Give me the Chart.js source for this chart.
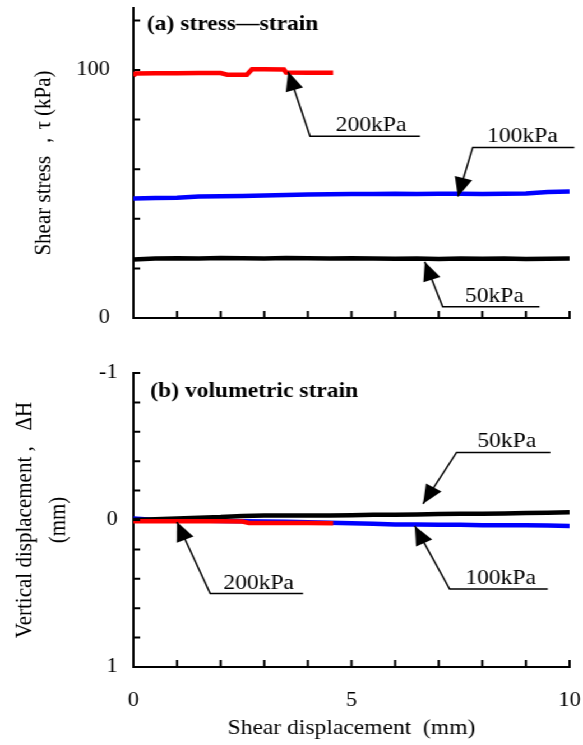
<!DOCTYPE html>
<html>
<head>
<meta charset="utf-8">
<script src="https://cdn.jsdelivr.net/npm/chart.js@4"></script>
<style>
  body { margin: 0; background: #fff; }
  #wrap { width: 520px; height: 745px; transform: scaleX(1.1212); transform-origin: 0 0; }
  canvas { display: block; }
</style>
</head>
<body>
<div id="wrap">
  <canvas id="stressChart" width="520" height="330"></canvas>
  <canvas id="volChart" width="520" height="415"></canvas>
</div>
<script>
// shear displacement (mm)
const dispX = [0, 0.5, 1, 1.5, 2, 2.5, 3, 3.5, 4, 4.5, 5, 5.5, 6, 6.5, 7, 7.5, 8, 8.5, 9, 9.5, 10];
const dispX200 = [0, 0.05, 0.5, 1, 1.5, 2, 2.15, 2.6, 2.72, 3.0, 3.45, 3.5, 4.0, 4.58];
const dispX200v = [0, 0.5, 1, 1.5, 2, 2.5, 2.65, 3, 3.5, 4, 4.58];

// shear stress (kPa)
const stress50 = [23.6, 24.0, 24.1, 24.0, 24.2, 24.1, 24.0, 24.2, 24.1, 24.0, 24.1, 24.0, 23.9, 24.0, 23.8, 24.0, 23.9, 24.0, 23.8, 23.9, 24.0];
const stress100 = [48.2, 48.4, 48.5, 49.0, 49.1, 49.2, 49.4, 49.6, 49.8, 49.9, 50.0, 50.0, 50.1, 50.0, 50.1, 50.1, 50.0, 50.1, 50.2, 50.8, 51.0];
const stress200 = [97.6, 98.6, 98.7, 98.7, 98.8, 98.8, 98.1, 98.1, 100.3, 100.3, 100.2, 99.0, 98.9, 98.9];

// vertical displacement (mm)
const vert50 = [0, -0.005, -0.01, -0.015, -0.02, -0.028, -0.03, -0.03, -0.03, -0.03, -0.032, -0.035, -0.036, -0.038, -0.04, -0.042, -0.043, -0.045, -0.048, -0.05, -0.052];
const vert100 = [-0.01, 0, 0.002, 0.004, 0.006, 0.008, 0.01, 0.012, 0.015, 0.018, 0.022, 0.026, 0.03, 0.03, 0.032, 0.033, 0.035, 0.035, 0.036, 0.038, 0.04];
const vert200 = [0.008, 0.008, 0.008, 0.009, 0.009, 0.01, 0.02, 0.02, 0.021, 0.021, 0.022];

// labelled ticks
const xTickLabels = [0, 5, 10];
const stressTickLabels = [0, 50, 100];
const vertTickLabels = [-1, -0.5, 0, 0.5, 1];

// arrow annotations, in data units
const stressNotes = [
    { text: '200kPa', tip: [3.55, 99.3], elbow: [4.05, 73.3], end: 6.57, textX: 5.45 },
    { text: '100kPa', tip: [7.44, 49.0], elbow: [7.78, 68.8], end: 10.11, textX: 8.92 },
    { text: '50kPa', tip: [6.68, 22.7], elbow: [7.09, 4.5], end: 9.31, textX: 8.28 }
];
const vertNotes = [
    { text: '200kPa', tip: [1.0, 0.014], elbow: [1.76, 0.5], end: 3.89, textX: 2.87 },
    { text: '50kPa', tip: [6.64, -0.11], elbow: [7.41, -0.46], end: 9.56, textX: 8.56 },
    { text: '100kPa', tip: [6.45, 0.04], elbow: [7.25, 0.47], end: 9.5, textX: 8.42 }
];

const serif = '"Liberation Serif", "Times New Roman", serif';
Chart.defaults.font.family = serif;
Chart.defaults.color = '#000';

function series(xs, ys, color) {
    return {
        data: xs.map((x, i) => ({ x: x, y: ys[i] })),
        borderColor: color,
        borderWidth: 4.5,
        pointRadius: 0,
        pointHoverRadius: 0,
        tension: 0,
        fill: false
    };
}

// ticks pointing into the plot, plus panel title and arrows
const decorPlugin = {
    id: 'decor',
    afterDraw(chart, args, opts) {
        const { ctx, chartArea, scales: { x, y } } = chart;
        ctx.save();
        ctx.strokeStyle = '#000';
        ctx.lineWidth = 2;
        ctx.beginPath();
        x.ticks.forEach(t => {
            const px = x.getPixelForValue(t.value);
            ctx.moveTo(px, chartArea.bottom);
            ctx.lineTo(px, chartArea.bottom - 7);
        });
        y.ticks.forEach(t => {
            const py = y.getPixelForValue(t.value);
            ctx.moveTo(chartArea.left, py);
            ctx.lineTo(chartArea.left + 6, py);
        });
        ctx.stroke();

        // panel title
        ctx.fillStyle = '#000';
        ctx.font = 'bold 21px ' + serif;
        ctx.textAlign = 'left';
        ctx.textBaseline = 'middle';
        ctx.fillText(opts.title, chartArea.left + opts.titleDx, chartArea.top + opts.titleDy);

        // leader lines with arrow heads
        ctx.lineWidth = 1.5;
        ctx.font = '21px ' + serif;
        ctx.textAlign = 'center';
        ctx.textBaseline = 'alphabetic';
        opts.notes.forEach(n => {
            const tx = x.getPixelForValue(n.tip[0]);
            const ty = y.getPixelForValue(n.tip[1]);
            const ex = x.getPixelForValue(n.elbow[0]);
            const ey = y.getPixelForValue(n.elbow[1]);
            const endX = x.getPixelForValue(n.end);
            ctx.beginPath();
            ctx.moveTo(endX, ey);
            ctx.lineTo(ex, ey);
            ctx.lineTo(tx, ty);
            ctx.stroke();

            const a = Math.atan2(ty - ey, tx - ex);
            const len = 19, half = 8;
            const bx = tx - Math.cos(a) * len, by = ty - Math.sin(a) * len;
            ctx.beginPath();
            ctx.moveTo(tx, ty);
            ctx.lineTo(bx + Math.sin(a) * half, by - Math.cos(a) * half);
            ctx.lineTo(bx - Math.sin(a) * half, by + Math.cos(a) * half);
            ctx.closePath();
            ctx.fill();

            ctx.fillText(n.text, x.getPixelForValue(n.textX), ey - 5);
        });
        ctx.restore();
    }
};

const axisBorder = { display: true, color: '#000', width: 2 };

function fixX(h) {
    return s => { s.height = h; s.paddingLeft = 0; s.paddingRight = 0; };
}
function fixY(w) {
    return s => { s.width = w; s.paddingTop = 0; s.paddingBottom = 0; };
}

new Chart(document.getElementById('stressChart'), {
    type: 'line',
    data: {
        datasets: [
            series(dispX200, stress200, '#ff0000'),
            series(dispX, stress100, '#0000ff'),
            series(dispX, stress50, '#000000')
        ]
    },
    options: {
        responsive: false,
        animation: false,
        events: [],
        layout: { autoPadding: false, padding: { left: 0, top: 8, right: 12, bottom: 0 } },
        plugins: {
            legend: { display: false },
            tooltip: { enabled: false },
            decor: { title: '(a) stress\u2014strain', titleDx: 12, titleDy: 17, notes: stressNotes }
        },
        scales: {
            x: {
                type: 'linear', min: 0, max: 10,
                grid: { display: false, drawTicks: false },
                border: axisBorder,
                ticks: { stepSize: 1, maxRotation: 0, callback: () => '' },
                afterFit: fixX(12)
            },
            y: {
                min: 0, max: 125,
                grid: { display: false, drawTicks: false },
                border: axisBorder,
                ticks: {
                    stepSize: 10, includeBounds: false, padding: 21,
                    font: { size: 20 },
                    callback: v => stressTickLabels.includes(v) ? String(v) : ''
                },
                title: {
                    display: true,
                    text: 'Shear stress \uff0c\u03c4 (kPa)',
                    font: { size: 21 },
                    padding: { top: 27, bottom: 0 }
                },
                afterFit: fixY(119)
            }
        }
    },
    plugins: [decorPlugin]
});

new Chart(document.getElementById('volChart'), {
    type: 'line',
    data: {
        datasets: [
            series(dispX200v, vert200, '#ff0000'),
            series(dispX, vert50, '#000000'),
            series(dispX, vert100, '#0000ff')
        ]
    },
    options: {
        responsive: false,
        animation: false,
        events: [],
        layout: { autoPadding: false, padding: { left: 0, top: 43, right: 12, bottom: 0 } },
        plugins: {
            legend: { display: false },
            tooltip: { enabled: false },
            decor: { title: '(b) volumetric strain', titleDx: 15, titleDy: 19, notes: vertNotes }
        },
        scales: {
            x: {
                type: 'linear', min: 0, max: 10,
                grid: { display: false, drawTicks: false },
                border: axisBorder,
                ticks: {
                    stepSize: 1, padding: 22, maxRotation: 0,
                    font: { size: 20 },
                    callback: v => xTickLabels.includes(v) ? String(v) : ''
                },
                title: {
                    display: true,
                    text: 'Shear displacement  (mm)',
                    font: { size: 21 },
                    padding: { top: 0, bottom: 4 }
                },
                afterFit: fixX(78)
            },
            y: {
                min: -1, max: 1, reverse: true,
                grid: { display: false, drawTicks: false },
                border: axisBorder,
                ticks: {
                    stepSize: 0.1, padding: 14,
                    font: { size: 20 },
                    callback: v => vertTickLabels.some(t => Math.abs(t - v) < 1e-6) ? String(Math.round(v * 10) / 10) : ''
                },
                title: {
                    display: true,
                    text: ['Vertical displacement ,   \u0394H', '(mm)'],
                    font: { size: 21, lineHeight: 1.4 },
                    padding: { top: 8, bottom: 0 }
                },
                afterFit: fixY(119)
            }
        }
    },
    plugins: [decorPlugin]
});
</script>
</body>
</html>
